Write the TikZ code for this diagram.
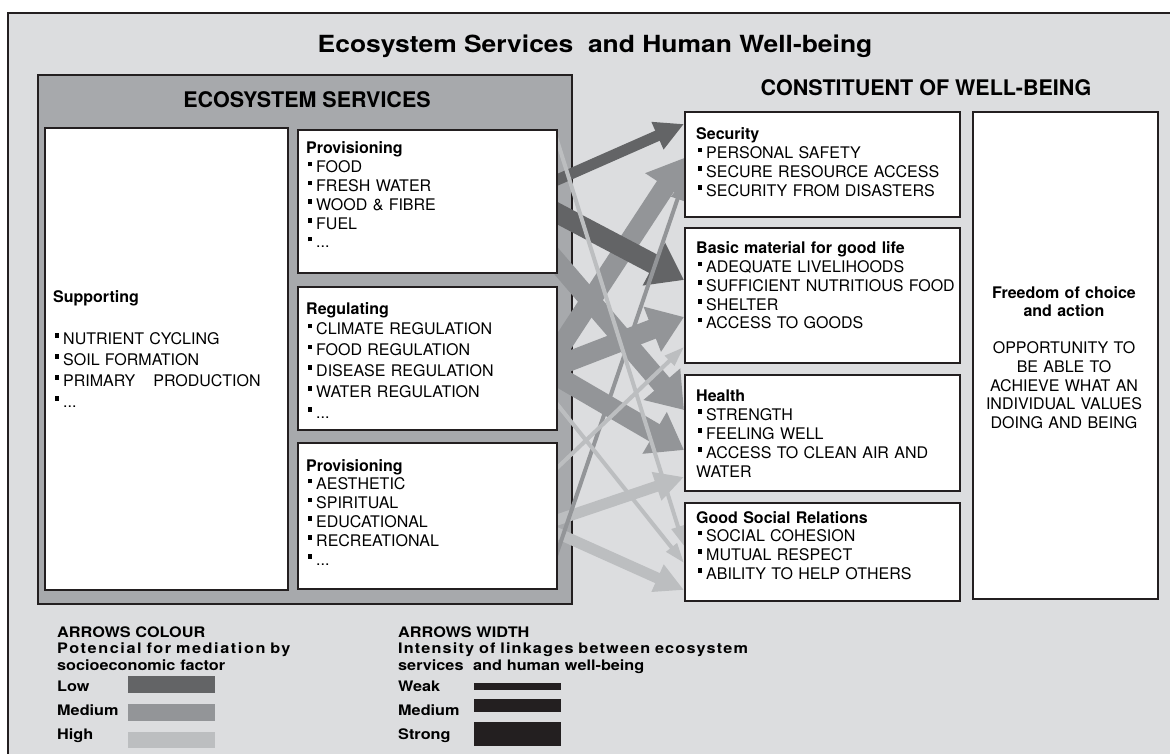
\documentclass[tikz,border=0pt]{standalone}
\usepackage{fontspec}
\setmainfont{TeX Gyre Heros}
\newfontfamily\widefont{TeX Gyre Heros}[FakeStretch=1.12]
\newfontfamily\widespaced{TeX Gyre Heros}[FakeStretch=1.12,LetterSpace=11]
\newfontfamily\widespacedb{TeX Gyre Heros}[FakeStretch=1.12,LetterSpace=8]
\usetikzlibrary{arrows.meta, positioning}

\definecolor{panel}{RGB}{220,221,223}
\definecolor{esgray}{RGB}{167,169,172}
\definecolor{ink}{RGB}{35,31,32}
\definecolor{lowgray}{RGB}{99,100,102}
\definecolor{medgray}{RGB}{147,149,152}
\definecolor{highgray}{RGB}{188,190,192}

\pgfdeclarelayer{back}
\pgfdeclarelayer{links}
\pgfsetlayers{back,links,main}

\newcommand{\bul}{\hspace{1.5pt}\rule[6.5pt]{4.5pt}{4.5pt}\hspace{4pt}}

\tikzstyle{box} = [rectangle, draw=ink, line width=2.6pt, fill=white, inner sep=0pt, outer sep=0pt, anchor=north west]
\tikzstyle{esbox} = [rectangle, draw=ink, line width=2.6pt, fill=esgray, inner sep=0pt, outer sep=0pt, anchor=north west]
\tikzstyle{txt} = [anchor=base west, inner sep=0pt, text width=266pt, align=left, font=\fontsize{16}{18.7}\selectfont]
\tikzstyle{head} = [inner sep=0pt, font=\bfseries\fontsize{21.5}{24}\selectfont]
\tikzstyle{legtxt} = [anchor=base west, inner sep=0pt, text width=420pt, align=left, font=\widefont\bfseries\fontsize{14.5}{16.5}\selectfont]
\tikzstyle{colbar} = [rectangle, inner sep=0pt, outer sep=0pt, anchor=north west, minimum width=87pt, minimum height=17pt]
\tikzstyle{widbar} = [rectangle, fill=ink, inner sep=0pt, outer sep=0pt, anchor=north west, minimum width=87pt]
\tikzstyle{bigarrow} = [line width=20pt, -{Triangle[length=34pt,width=46pt]}, shorten <=-18pt]
\tikzstyle{midarrow} = [line width=11pt, -{Triangle[length=29pt,width=28pt]}, shorten <=-10pt]
\tikzstyle{thinarrow} = [line width=4pt, -{Triangle[length=20pt,width=13pt]}, shorten <=-4pt]
\tikzstyle{lowpot} = [draw=lowgray]
\tikzstyle{medpot} = [draw=medgray]
\tikzstyle{highpot} = [draw=highgray]

\begin{document}
\begin{tikzpicture}[x=1pt, y=-1pt]
\useasboundingbox (0,0) rectangle (1170,754);

% panel and the ecosystem services frame
\begin{pgfonlayer}{back}
\fill [panel] (8,13) rectangle (1170,754);
\draw [ink, line width=2.6pt] (8,754) -- (8,13) -- (1170,13);
\node (es) [esbox, minimum width=534pt, minimum height=529pt] at (38,75) {};
\end{pgfonlayer}

\node (title) [anchor=base, inner sep=0pt, font=\widefont\bfseries\fontsize{23.6}{28}\selectfont] at (595,53) {Ecosystem Services\ \ and Human Well-being};
\node (eshead) [head] at (307,100) {ECOSYSTEM SERVICES};
\node (wbhead) [head] at (926,88) {CONSTITUENT OF WELL-BEING};

% service boxes
\node (supp) [box, minimum width=243pt, minimum height=462pt] at (45,128) {};
\node (prov) [box, minimum width=259pt, minimum height=143pt] at (298,130) {};
\node (regu) [box, minimum width=259pt, minimum height=143pt, below=14pt of prov] {};
\node (cult) [box, minimum width=259pt, minimum height=146pt, below=13pt of regu] {};

% well-being boxes
\node (sec) [box, minimum width=275pt, minimum height=105pt] at (685,112) {};
\node (basic) [box, minimum width=275pt, minimum height=135pt, below=11pt of sec] {};
\node (health) [box, minimum width=275pt, minimum height=116pt, below=12pt of basic] {};
\node (social) [box, minimum width=275pt, minimum height=98pt, below=12pt of health] {};
\node (free) [box, minimum width=185pt, minimum height=487pt] at (973,112) {};

% box texts
\node (supptxt) [txt, font=\fontsize{16}{21}\selectfont] at (53,302) {{\bfseries Supporting}\\[21pt]
  \bul NUTRIENT CYCLING\\ \bul SOIL FORMATION\\ \bul PRIMARY\hspace{18pt}PRODUCTION\\ \bul ...};
\node (provtxt) [txt, font=\fontsize{16}{18.8}\selectfont] at (306,154) {{\bfseries Provisioning}\\
  \bul FOOD\\ \bul FRESH WATER\\ \bul WOOD \& FIBRE\\ \bul FUEL\\ \bul ...};
\node (regutxt) [txt, font=\fontsize{16}{20.8}\selectfont] at (306,314) {{\bfseries Regulating}\\
  \bul CLIMATE REGULATION\\ \bul FOOD REGULATION\\ \bul DISEASE REGULATION\\ \bul WATER REGULATION\\ \bul ...};
\node (culttxt) [txt, font=\fontsize{16}{18.8}\selectfont] at (306,471) {{\bfseries Provisioning}\\
  \bul AESTHETIC\\ \bul SPIRITUAL\\ \bul EDUCATIONAL\\ \bul RECREATIONAL\\ \bul ...};
\node (sectxt) [txt] at (696,140) {{\bfseries Security}\\
  \bul PERSONAL SAFETY\\ \bul SECURE RESOURCE ACCESS\\ \bul SECURITY FROM DISASTERS};
\node (basictxt) [txt] at (696,254) {{\bfseries Basic material for good life}\\
  \bul ADEQUATE LIVELIHOODS\\ \bul SUFFICIENT NUTRITIOUS FOOD\\ \bul SHELTER\\ \bul ACCESS TO GOODS};
\node (healthtxt) [txt, font=\fontsize{16}{19}\selectfont] at (696,401) {{\bfseries Health}\\
  \bul STRENGTH\\ \bul FEELING WELL\\ \bul ACCESS TO CLEAN AIR AND\\ WATER};
\node (socialtxt) [txt] at (696,523) {{\bfseries Good Social Relations}\\
  \bul SOCIAL COHESION\\ \bul MUTUAL RESPECT\\ \bul ABILITY TO HELP OTHERS};
\node (freetxt) [txt, anchor=base, text width=180pt, align=center, font=\fontsize{16}{18.6}\selectfont] at (1064,298)
  {{\bfseries Freedom of choice\\ and action}\\[18.6pt]
  OPPORTUNITY TO\\ BE ABLE TO\\ ACHIEVE WHAT AN\\ INDIVIDUAL VALUES\\ DOING AND BEING};

% linkages
\begin{pgfonlayer}{links}
\draw [medpot, bigarrow] ([yshift=-65pt]regu.north east) -- ([xshift=-1pt,yshift=-46pt]sec.north west);
\draw [medpot, bigarrow] ([yshift=-79pt]regu.north east) -- ([xshift=-1pt,yshift=-89pt]basic.north west);
\draw [medpot, bigarrow] ([yshift=-89pt]regu.north east) -- ([xshift=-1pt,yshift=-75pt]health.north west);
\draw [medpot, bigarrow] ([yshift=-132pt]prov.north east) -- ([xshift=-1pt,yshift=-35pt]health.north west);
\draw [lowpot, bigarrow] ([yshift=-83pt]prov.north east) -- ([xshift=-1pt,yshift=-52pt]basic.north west);
\draw [lowpot, midarrow] ([yshift=-50pt]prov.north east) -- ([xshift=-1pt,yshift=-12pt]sec.north west);
\draw [highpot, midarrow] ([yshift=-77pt]cult.north east) -- ([xshift=-1pt,yshift=-102pt]health.north west);
\draw [highpot, midarrow] ([yshift=-90pt]cult.north east) -- ([xshift=-1pt,yshift=-87pt]social.north west);
\draw [medpot, thinarrow] ([yshift=-110pt]cult.north east) -- ([xshift=-1pt,yshift=-68pt]sec.north west);
\draw [highpot, thinarrow] ([yshift=-25pt]cult.north east) -- ([xshift=-1pt,yshift=-119pt]basic.north west);
\draw [highpot, thinarrow] ([yshift=-10pt]prov.north east) -- ([xshift=-1pt,yshift=-43pt]social.north west);
\draw [highpot, thinarrow] ([yshift=-117pt]regu.north east) -- ([xshift=-1pt,yshift=-60pt]social.north west);
\end{pgfonlayer}

% legend
\node (colhead) [legtxt] at (57,637) {ARROWS COLOUR\\ {\widespaced Potencial for mediation by}\\ socioeconomic factor};
\node (lowlbl) [legtxt] at (57,691) {Low};
\node (medlbl) [legtxt] at (57,715) {Medium};
\node (highlbl) [legtxt] at (57,739) {High};
\node (lowbar) [colbar, fill=lowgray] at (128,676) {};
\node (medbar) [colbar, fill=medgray] at (128,704) {};
\node (highbar) [colbar, fill=highgray, minimum height=16pt] at (128,732) {};

\node (widhead) [legtxt] at (398,637) {ARROWS WIDTH\\ {\widespacedb Intensity of linkages between ecosystem}\\ services\ \ and human well-being};
\node (weaklbl) [legtxt] at (398,691) {Weak};
\node (midlbl) [legtxt] at (398,715) {Medium};
\node (stronglbl) [legtxt] at (398,739) {Strong};
\node (weakbar) [widbar, minimum height=7pt] at (474,683) {};
\node (midbar) [widbar, minimum height=13pt] at (474,699) {};
\node (strongbar) [widbar, minimum height=24pt] at (474,722) {};

\end{tikzpicture}
\end{document}
